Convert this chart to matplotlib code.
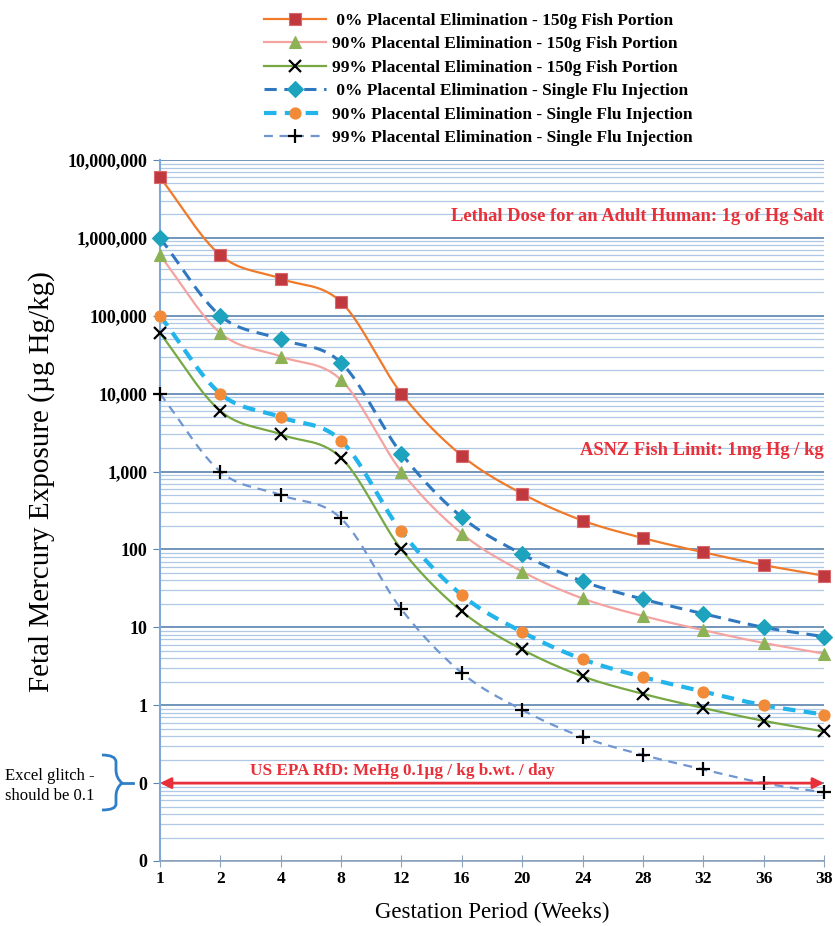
import numpy as np
import matplotlib
matplotlib.use("Agg")
import matplotlib.pyplot as plt
from matplotlib.lines import Line2D
from matplotlib.path import Path
from matplotlib.patches import PathPatch
from matplotlib.ticker import FixedLocator, LogLocator, NullFormatter

plt.rcParams["font.family"] = ["Liberation Serif", "DejaVu Serif"]

# Data
weeks = ["1", "2", "4", "8", "12", "16", "20", "24", "28", "32", "36", "38"]

fish_0 = [6000000, 600000, 300000, 150000, 10000, 1600, 520, 235, 140, 92, 63, 46]
fish_90 = [600000, 60000, 30000, 15000, 1000, 160, 52, 23.5, 14, 9.2, 6.3, 4.6]
fish_99 = [60000, 6000, 3000, 1500, 100, 16, 5.2, 2.35, 1.4, 0.92, 0.63, 0.46]
flu_0 = [1000000, 100000, 50000, 25000, 1700, 260, 87, 39, 23, 15, 10, 7.6]
flu_90 = [100000, 10000, 5000, 2500, 170, 26, 8.7, 3.9, 2.3, 1.5, 1.0, 0.76]
flu_99 = [10000, 1000, 500, 250, 17, 2.6, 0.87, 0.39, 0.23, 0.15, 0.10, 0.076]

labels = [
    " 0% Placental Elimination - 150g Fish Portion",
    "90% Placental Elimination - 150g Fish Portion",
    "99% Placental Elimination - 150g Fish Portion",
    " 0% Placental Elimination - Single Flu Injection",
    "90% Placental Elimination - Single Flu Injection",
    "99% Placental Elimination - Single Flu Injection",
]

ytick_vals = [0.01, 0.1, 1, 10, 100, 1000, 10000, 100000, 1000000, 10000000]
ytick_labels = ["0", "0", "1", "10", "100", "1,000", "10,000", "100,000",
                "1,000,000", "10,000,000"]


def smooth(x, y, n=30):
    # Excel-like smoothed line: Catmull-Rom through points in (x, log y)
    x = np.asarray(x, float)
    ly = np.log10(np.asarray(y, float))
    px = np.concatenate([[2 * x[0] - x[1]], x, [2 * x[-1] - x[-2]]])
    py = np.concatenate([[2 * ly[0] - ly[1]], ly, [2 * ly[-1] - ly[-2]]])
    xs, ys = [], []
    t = np.linspace(0, 1, n)
    for i in range(1, len(px) - 2):
        p0x, p1x, p2x, p3x = px[i - 1:i + 3]
        p0y, p1y, p2y, p3y = py[i - 1:i + 3]
        c1x, c1y = p1x + (p2x - p0x) / 6, p1y + (p2y - p0y) / 6
        c2x, c2y = p2x - (p3x - p1x) / 6, p2y - (p3y - p1y) / 6
        bx = (1 - t) ** 3 * p1x + 3 * (1 - t) ** 2 * t * c1x + 3 * (1 - t) * t ** 2 * c2x + t ** 3 * p2x
        by = (1 - t) ** 3 * p1y + 3 * (1 - t) ** 2 * t * c1y + 3 * (1 - t) * t ** 2 * c2y + t ** 3 * p2y
        xs.append(bx)
        ys.append(by)
    return np.concatenate(xs), 10 ** np.concatenate(ys)


fig = plt.figure(figsize=(8.35, 9.26), dpi=100)
ax = fig.add_axes([0.1916, 0.0702, 0.7952, 0.757])
ax.set_yscale("log")

xpos = np.arange(len(weeks))

styles = [
    # data, line color, ls, lw, marker, marker face, marker edge, ms
    (fish_0, "#F07A2A", "-", 1.6, "s", "#C0393F", "#D9686C", 8),
    (fish_90, "#F4A3A0", "-", 1.6, "^", "#8DB255", "#8DB255", 8),
    (fish_99, "#77A843", "-", 1.6, "x", "black", "black", 9),
    (flu_0, "#2F78C0", (0, (4, 2.5)), 2.2, "D", "#1EA3BE", "#1EA3BE", 8),
    (flu_90, "#22B4EA", (0, (3, 2)), 3.0, "o", "#F28B38", "#F28B38", 8),
    (flu_99, "#6F96D0", (0, (4, 3)), 1.6, "+", "black", "black", 10),
]

handles = []
for (vals, lc, ls, lw, mk, mf, me, ms), lab in zip(styles, labels):
    sx, sy = smooth(xpos, vals)
    ax.plot(sx, sy, color=lc, linestyle=ls, linewidth=lw, zorder=3)
    ax.plot(xpos, vals, linestyle="none", marker=mk, markerfacecolor=mf,
            markeredgecolor=me, markersize=ms, markeredgewidth=1.6 if mk in "x+" else 0.8,
            zorder=4, clip_on=False)
    handles.append(Line2D([], [], color=lc, linestyle=ls, linewidth=lw, marker=mk,
                          markerfacecolor=mf, markeredgecolor=me, markersize=ms,
                          markeredgewidth=1.6 if mk in "x+" else 0.8))

ax.set_xlim(0, len(weeks) - 1)
ax.set_ylim(0.01, 10000000)
ax.set_xticks(xpos)
ax.set_xticklabels(weeks, fontsize=12.5, fontweight="bold")
ax.yaxis.set_major_locator(FixedLocator(ytick_vals))
ax.set_yticklabels(ytick_labels, fontsize=13, fontweight="bold")
ax.yaxis.set_minor_locator(LogLocator(base=10, subs=np.arange(2, 10), numticks=20))
ax.yaxis.set_minor_formatter(NullFormatter())
ax.tick_params(axis="y", which="minor", length=0)
ax.tick_params(axis="y", which="major", length=5, color="#5A86B5", pad=4)
ax.tick_params(axis="x", which="major", length=8, direction="inout", color="#8FA4BC", pad=3)

ax.grid(True, which="major", axis="y", color="#5A83AE", linewidth=1.2)
ax.grid(True, which="minor", axis="y", color="#AFC8E6", linewidth=0.9)
ax.set_axisbelow(True)
for s in ("top", "right"):
    ax.spines[s].set_visible(False)
ax.spines["left"].set_color("#7FA8D8")
ax.spines["left"].set_linewidth(1.5)
ax.spines["bottom"].set_color("#8FA4BC")
ax.spines["bottom"].set_linewidth(1.2)

ax.set_xlabel("Gestation Period (Weeks)", fontsize=16.5, labelpad=11)
ax.set_ylabel("Fetal Mercury Exposure (\u00b5g Hg/kg)", fontsize=21, labelpad=4)
ax.yaxis.set_label_coords(-0.158, 0.542)

# Reference annotations
red = "#E8303A"
ax.text(len(weeks) - 1, 1450000, "Lethal Dose for an Adult Human: 1g of Hg Salt",
        color=red, fontsize=13.3, fontweight="bold", ha="right", va="bottom")
ax.text(len(weeks) - 1, 1450, "ASNZ Fish Limit: 1mg Hg / kg",
        color=red, fontsize=13.3, fontweight="bold", ha="right", va="bottom")
ax.text(4.02, 0.112, "US EPA RfD: MeHg 0.1\u00b5g / kg b.wt. / day",
        color=red, fontsize=12.3, fontweight="bold", ha="center", va="bottom")
ax.annotate("", xy=(0, 0.1), xytext=(len(weeks) - 1, 0.1),
            arrowprops=dict(arrowstyle="<|-|>", color=red, lw=2, mutation_scale=16,
                            shrinkA=0, shrinkB=0), zorder=5)

# Excel glitch note with a curly brace
fig.text(5 / 835, 1 - 786 / 926, "Excel glitch -\nshould be 0.1", fontsize=12,
         ha="left", va="center", linespacing=1.35)
W, H = 835.0, 926.0
bx = [102, 116, 116, 116, 116, 122, 116, 116, 116, 116, 102]
by = [755, 755, 762, 770, 778, 783, 788, 796, 804, 810, 810]
pts = [(x / W, 1 - y / H) for x, y in zip(bx, by)]
codes = [Path.MOVETO, Path.CURVE3, Path.CURVE3, Path.LINETO, Path.CURVE3, Path.CURVE3,
         Path.CURVE3, Path.CURVE3, Path.LINETO, Path.CURVE3, Path.CURVE3]
fig.add_artist(PathPatch(Path(pts, codes), facecolor="none", edgecolor="#2F7FC8",
                         lw=2, transform=fig.transFigure))
fig.add_artist(Line2D([122 / W, 133 / W], [1 - 783 / H, 1 - 783 / H], color="#2F7FC8",
                      lw=2, transform=fig.transFigure))

fig.legend(handles, labels, loc="upper center", bbox_to_anchor=(0.573, 1.003),
           frameon=False, prop={"size": 12.5, "weight": "bold"}, handlelength=3.6,
           labelspacing=0.42, handletextpad=0.35)

fig.savefig("out.png", dpi=100)
